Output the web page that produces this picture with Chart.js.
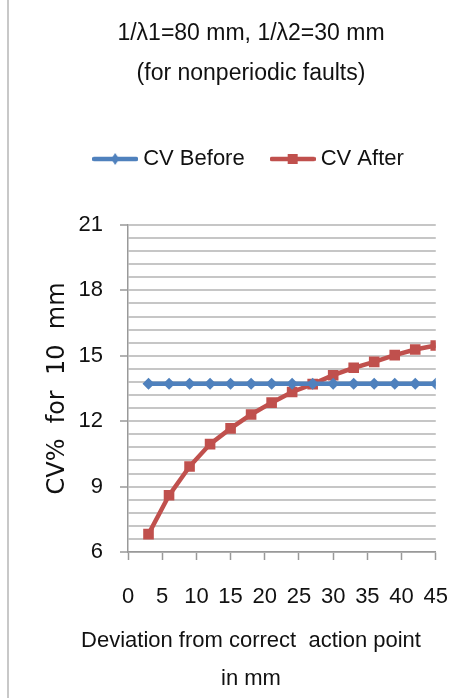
<!DOCTYPE html>
<html>
<head>
<meta charset="utf-8">
<script src="https://cdn.jsdelivr.net/npm/chart.js@4.4.0/dist/chart.umd.min.js"></script>
<style>
	html, body { margin: 0; padding: 0; background: #fff; }
	#wrap { position: relative; width: 472px; height: 698px; }
	#edge { position: absolute; left: 7px; top: 0; width: 2px; height: 698px; background: #c8c8c8; }
</style>
</head>
<body>
<div id="wrap">
	<div id="edge"></div>
	<canvas id="cvChart" width="472" height="698"></canvas>
</div>
<script>
// deviation from correct action point (mm)
var deviation = [3, 6, 9, 12, 15, 18, 21, 24, 27, 30, 33, 36, 39, 42, 45];
// CV % values
var cvBefore = [13.72, 13.72, 13.72, 13.72, 13.72, 13.72, 13.72, 13.72, 13.72, 13.72, 13.72, 13.72, 13.72, 13.72, 13.72];
var cvAfter = [6.82, 8.6, 9.92, 10.95, 11.67, 12.31, 12.85, 13.34, 13.7, 14.11, 14.45, 14.72, 15.03, 15.29, 15.47];

var titleLines = ["1/\u03bb1=80 mm, 1/\u03bb2=30 mm", "(for nonperiodic faults)"];
var xTitleLines = ["Deviation from correct  action point", "in mm"];
var yTitle = "CV%  for  10  mm";

var blue = "#4f81bd";
var red = "#c0504d";

function toPoints(xs, ys) {
	var pts = [];
	for (var i = 0; i < xs.length; i++) {
		pts.push({ x: xs[i], y: ys[i] });
	}
	return pts;
}

// small legend icons: line with marker in the middle
function legendIcon(color, shape) {
	var c = document.createElement("canvas");
	c.width = 46;
	c.height = 14;
	var g = c.getContext("2d");
	g.strokeStyle = color;
	g.lineWidth = 4.5;
	g.lineCap = "round";
	g.beginPath();
	g.moveTo(2, 7);
	g.lineTo(44, 7);
	g.stroke();
	g.fillStyle = color;
	if (shape == "diamond") {
		g.beginPath();
		g.moveTo(23, 1);
		g.lineTo(27, 7);
		g.lineTo(23, 13);
		g.lineTo(19, 7);
		g.closePath();
		g.fill();
	} else {
		g.fillRect(18, 2, 10, 10);
	}
	return c;
}

var iconBefore = legendIcon(blue, "diamond");
var iconAfter = legendIcon(red, "square");

function isMajor(v) {
	var r = v / 3;
	return Math.abs(r - Math.round(r)) < 0.001;
}

Chart.defaults.font.family = "'Liberation Sans', Arial, sans-serif";
Chart.defaults.color = "#111";

var ctx = document.getElementById("cvChart");

var data = {
	datasets: [
		{
			label: "CV Before",
			data: toPoints(deviation, cvBefore),
			borderColor: blue,
			backgroundColor: blue,
			borderWidth: 4.5,
			pointStyle: "rectRot",
			pointRadius: 6,
			pointBorderWidth: 0,
			fill: false,
			tension: 0
		},
		{
			label: "CV After",
			data: toPoints(deviation, cvAfter),
			borderColor: red,
			backgroundColor: red,
			borderWidth: 4.5,
			pointStyle: "rect",
			pointRadius: 7.5,
			pointBorderWidth: 0,
			fill: false,
			tension: 0
		}
	]
};

var options = {
	responsive: false,
	animation: false,
	layout: {
		padding: { left: 61, right: 31, top: 0, bottom: 0 }
	},
	plugins: {
		title: {
			display: true,
			text: titleLines,
			font: { size: 23, weight: "normal", lineHeight: 40 / 23 },
			color: "#111",
			padding: { top: 14, bottom: 23 }
		},
		subtitle: {
			// x axis title, centred under the whole figure
			display: true,
			position: "bottom",
			text: xTitleLines,
			font: { size: 22, lineHeight: 38 / 22 },
			color: "#111",
			padding: { top: 3, bottom: 0 }
		},
		legend: {
			display: true,
			position: "top",
			labels: {
				font: { size: 22 },
				color: "#111",
				padding: 31,
				usePointStyle: true,
				pointStyleWidth: 34,
				generateLabels: function(chart) {
					return [
						{ text: "CV Before", pointStyle: iconBefore, fillStyle: blue, strokeStyle: blue, lineWidth: 0, datasetIndex: 0, fontColor: "#111" },
						{ text: "CV After", pointStyle: iconAfter, fillStyle: red, strokeStyle: red, lineWidth: 0, datasetIndex: 1, fontColor: "#111" }
					];
				}
			}
		},
		tooltip: { enabled: false }
	},
	scales: {
		x: {
			type: "linear",
			min: 0,
			max: 45,
			afterFit: function(scale) { scale.height = 67; },
			ticks: {
				stepSize: 5,
				maxRotation: 0,
				autoSkip: false,
				padding: 24,
				font: { size: 22 },
				color: "#111"
			},
			grid: {
				drawOnChartArea: false,
				drawTicks: true,
				tickLength: 8,
				tickColor: "#999",
				tickWidth: 1.5
			},
			border: { color: "#999", width: 1.5 }
		},
		// empty band between the legend and the plot
		spacer: {
			type: "linear",
			position: "top",
			min: 0,
			max: 1,
			afterFit: function(scale) { scale.height = 45; },
			ticks: { display: false },
			grid: { display: false, drawTicks: false },
			border: { display: false }
		},
		y: {
			min: 6,
			max: 21,
			afterFit: function(scale) { scale.width = 67; },
			ticks: {
				stepSize: 0.6,
				autoSkip: false,
				padding: 17,
				font: { size: 22 },
				color: "#111",
				callback: function(v) {
					return isMajor(v) ? Math.round(v) : "";
				}
			},
			grid: {
				color: "#c6c6c6",
				lineWidth: 2,
				tickLength: 8,
				tickWidth: 1.5,
				tickColor: function(c) {
					return (c.tick && isMajor(c.tick.value)) ? "#999" : "rgba(0,0,0,0)";
				}
			},
			border: { color: "#999", width: 1.5 },
			title: {
				display: true,
				text: yTitle,
				font: { family: "'DejaVu Sans', Verdana, sans-serif", size: 24 },
				color: "#111",
				padding: { top: -17.4, bottom: 0 }
			}
		}
	}
};

var chart = new Chart(ctx, {
	type: "line",
	data: data,
	options: options
});
</script>
</body>
</html>
